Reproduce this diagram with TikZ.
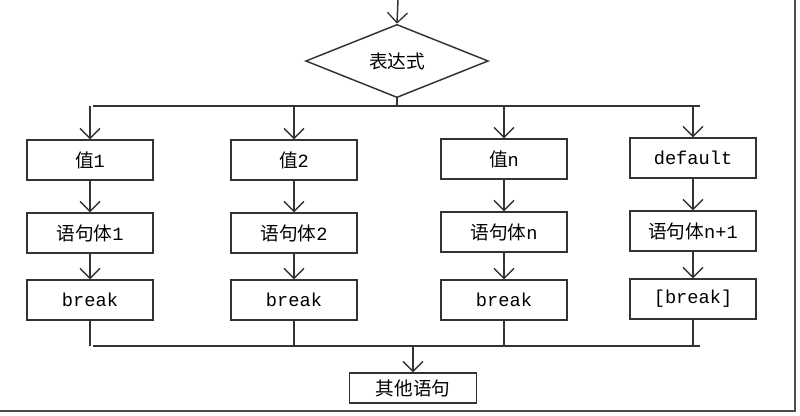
\documentclass[tikz,border=0pt]{standalone}
\usepackage{fontspec}
\setmonofont{Liberation Mono}
\newfontfamily\cjk{Noto Sans CJK SC}
\usetikzlibrary{shapes.geometric,arrows.meta}
\newcommand{\zh}[1]{{\cjk\fontsize{14}{16}\selectfont #1}}
\begin{document}
\begin{tikzpicture}[x=0.75pt,y=-0.75pt,
  line/.style={draw=black!80, line width=1.1pt},
  arr/.style={line, -{Straight Barb[length=7.5pt,width=15pt,line width=1pt]}},
  box/.style={draw=black!80, line width=1.1pt, minimum width=94.5pt, minimum height=30pt, inner sep=0pt,
    font=\ttfamily\fontsize{14}{16}\selectfont},
  frame/.style={draw=black!70, line width=1.6pt}]
\useasboundingbox (0,0) rectangle (800,415);
\fill[white] (0,0) rectangle (800,415);
% decision
\coordinate (top) at (398,0);
\node[diamond, draw=black!80, line width=1.1pt, minimum width=137pt, minimum height=42pt, inner sep=0pt] (expr) at (397,61) {\zh{表达式}};
\draw[arr] (top) -- (expr.north);
% bus
\coordinate (busL) at (93,106);
\coordinate (busR) at (700,106);
\coordinate (busM) at (expr.south |- busL);
\draw[line] (expr.south) -- (busM);
\draw[line] (busL) -- (busR);
% row 1
\node[box] (v1) at (90,160) {\zh{值}1};
\node[box] (v2) at (294,160) {\zh{值}2};
\node[box] (vn) at (504,159) {\zh{值}n};
\node[box] (vd) at (693,158) {default};
% row 2
\node[box] (s1) at (90,233) {\zh{语句体}1};
\node[box] (s2) at (294,233) {\zh{语句体}2};
\node[box] (sn) at (504,232) {\zh{语句体}n};
\node[box] (sd) at (693,231) {\zh{语句体}n+1};
% row 3
\node[box] (b1) at (90,300) {break};
\node[box] (b2) at (294,300) {break};
\node[box] (bn) at (504,300) {break};
\node[box] (bd) at (693,299) {[break]};
% final
\node[box, minimum width=95pt, minimum height=22.5pt] (other) at (413,388) {\zh{其他语句}};
% arrows from bus
\foreach \n in {v1,v2,vn,vd} {
  \coordinate (t\n) at (\n.north |- busL);
  \draw[arr] (t\n) -- (\n.north);
}
\foreach \a/\b in {v1/s1,v2/s2,vn/sn,vd/sd,s1/b1,s2/b2,sn/bn,sd/bd} {
  \draw[arr] (\a.south) -- (\b.north);
}
% bottom collector
\coordinate (cL) at (93,346);
\coordinate (cR) at (700,346);
\foreach \n in {b1,b2,bn,bd} {
  \coordinate (c\n) at (\n.south |- cL);
  \draw[line] (\n.south) -- (c\n);
}
\draw[line] (cL) -- (cR);
\coordinate (cM) at (other.north |- cL);
\draw[arr] (cM) -- (other.north);
% image frame shadow
\coordinate (fTR) at (795,0);
\coordinate (fBR) at (795,411);
\coordinate (fBL) at (0,411);
\draw[frame] (fTR) -- (fBR) -- (fBL);
\end{tikzpicture}
\end{document}
